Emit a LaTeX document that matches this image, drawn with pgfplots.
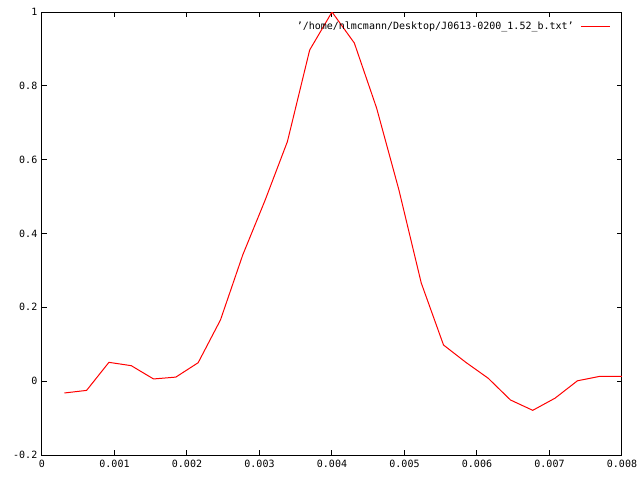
\documentclass[border=0pt]{standalone}
\usepackage{fontspec}
\setmainfont{DejaVu Sans Mono}
\usepackage{pgfplots}
\pgfplotsset{compat=1.18}
\begin{document}
\begin{tikzpicture}
\useasboundingbox (-31.5pt,-18.75pt) rectangle (448.5pt,341.25pt);
\begin{axis}[
  at={(0,0)}, anchor=south west,
  scale only axis, width=435pt, height=332.25pt,
  xmin=0, xmax=0.008, ymin=-0.2, ymax=1,
  xtick={0,0.001,0.002,0.003,0.004,0.005,0.006,0.007,0.008},
  ytick={-0.2,0,0.2,0.4,0.6,0.8,1},
  scaled x ticks=false, scaled y ticks=false,
  xticklabel style={/pgf/number format/fixed,/pgf/number format/precision=3},
  yticklabel style={/pgf/number format/fixed,/pgf/number format/precision=1},
  /pgf/number format/assume math mode=true,
  tick label style={font=\fontsize{7.5}{9}\selectfont, text=black},
  tick align=inside, major tick length=3.75pt,
  tick style={black, line width=0.75pt},
  axis line style={black, line width=0.75pt},
  xtick pos=both, ytick pos=both,
  legend style={draw=none, fill=none, at={(0.981,0.985)}, anchor=north east,
    font=\fontsize{7.5}{9}\selectfont, inner sep=0pt},
  legend cell align=right, legend plot pos=right,
  legend image code/.code={\path (0pt,0pt); \draw[#1] (3pt,0pt) -- (25pt,0pt);},
]
\addplot[red, line width=0.75pt] coordinates {
(0.000308,-0.032) (0.000615,-0.025) (0.000923,0.051) (0.001231,0.042)
(0.001538,0.006) (0.001846,0.011) (0.002154,0.050) (0.002462,0.166)
(0.002769,0.342) (0.003077,0.490) (0.003385,0.649) (0.003692,0.897)
(0.004000,1.000) (0.004308,0.916) (0.004615,0.740) (0.004923,0.518)
(0.005231,0.266) (0.005538,0.098) (0.005846,0.051) (0.006154,0.008)
(0.006462,-0.051) (0.006769,-0.079) (0.007077,-0.046) (0.007385,0.001)
(0.007692,0.013) (0.008000,0.013)
};
\addlegendentry{'/home/nlmcmann/Desktop/J0613-0200\_1.52\_b.txt'}
\end{axis}
\end{tikzpicture}
\end{document}
